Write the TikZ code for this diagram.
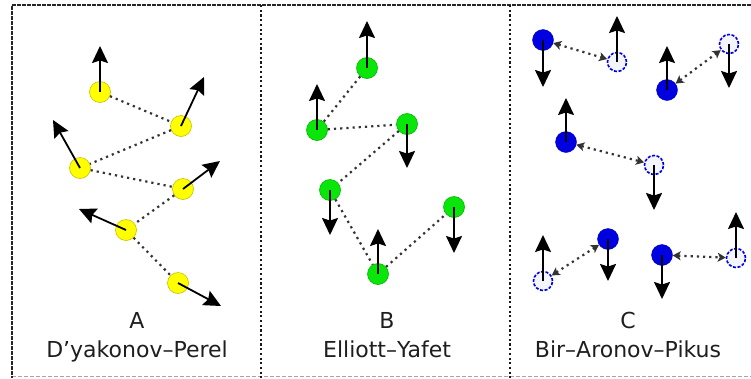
\documentclass[tikz,border=0pt]{standalone}
\usepackage{fontspec}
\setmainfont{DejaVu Sans}
\usetikzlibrary{arrows.meta}
\definecolor{ylw}{RGB}{255,255,0}
\definecolor{ylwb}{RGB}{200,190,0}
\definecolor{grn}{RGB}{10,230,10}
\definecolor{grnb}{RGB}{0,180,0}
\definecolor{blu}{RGB}{0,0,225}
\definecolor{holl}{RGB}{244,244,252}
\definecolor{txt}{RGB}{30,30,30}
\tikzset{
  ydot/.style={circle,minimum size=21pt,inner sep=0pt,fill=ylw,draw=ylwb,line width=0.6pt},
  gdot/.style={circle,minimum size=21pt,inner sep=0pt,fill=grn,draw=grnb,line width=0.6pt},
  bdot/.style={circle,minimum size=21pt,inner sep=0pt,fill=blu,draw=blu!80!black,line width=0.4pt},
  hdot/.style={circle,minimum size=19pt,inner sep=0pt,fill=holl,draw=blu,line width=1.6pt,dash pattern=on 3pt off 1.6pt},
  spin/.style={line width=1.8pt,-{Stealth[width=16pt,length=17pt,inset=2.5pt]}},
  link/.style={line width=2.2pt,color=black!80,dash pattern=on 2.2pt off 4pt},
  blink/.style={line width=2.2pt,color=black!80,dash pattern=on 2.2pt off 4pt,{Stealth[width=9pt,length=8pt,inset=2pt]}-{Stealth[width=9pt,length=8pt,inset=2pt]}},
  lbl/.style={anchor=base,font=\fontsize{22}{26}\selectfont,text=txt,inner sep=0pt},
  frame/.style={line width=1.6pt,color=black!85,dash pattern=on 4pt off 1pt},
  divider/.style={line width=2.2pt,color=black!90,dash pattern=on 2.2pt off 2.5pt}
}
\begin{document}
\begin{tikzpicture}[x=1pt,y=-1pt]
\useasboundingbox (0,0) rectangle (751,378);
% frame
\draw[line width=0.8pt,color=black!35,dash pattern=on 4pt off 2pt] (12,376.5) -- (751,376.5);
\draw[frame] (751,5) -- (12,5) -- (12,378);
\draw[divider] (261,5) -- (261,378);
\draw[divider] (510,5) -- (510,378);
% Panel A
\node[ydot] (a1) at (100,92) {};
\node[ydot] (a2) at (181,126) {};
\node[ydot] (a3) at (80,168) {};
\node[ydot] (a4) at (183,189) {};
\node[ydot] (a5) at (126,230) {};
\node[ydot] (a6) at (178,283) {};
\draw[link] (a1) -- (a2);
\draw[link] (a2) -- (a3);
\draw[link] (a3) -- (a4);
\draw[link] (a4) -- (a5);
\draw[link] (a5) -- (a6);
\draw[spin] (a1.center) -- (100,46);
\draw[spin] (a2.center) -- (204,77);
\draw[spin] (a3.center) -- (53,120);
\draw[spin] (a4.center) -- (220,161);
\draw[spin] (a5.center) -- (79,209);
\draw[spin] (a6.center) -- (221,306);
\node[lbl] (la) at (137,328) {A};
\node[lbl] (na) at (137,357) {D’yakonov–Perel};
% Panel B
\node[gdot] (b1) at (367,68) {};
\node[gdot] (b2) at (317,130) {};
\node[gdot] (b3) at (407,124) {};
\node[gdot] (b4) at (330,190) {};
\node[gdot] (b5) at (454,207) {};
\node[gdot] (b6) at (378,274) {};
\draw[link] (b1) -- (b2);
\draw[link] (b2) -- (b3);
\draw[link] (b3) -- (b4);
\draw[link] (b4) -- (b6);
\draw[link] (b6) -- (b5);
\draw[spin] (b1.center) -- (367,21);
\draw[spin] (b2.center) -- (317,84);
\draw[spin] (b3.center) -- (407,168);
\draw[spin] (b4.center) -- (330,235);
\draw[spin] (b5.center) -- (454,253);
\draw[spin] (b6.center) -- (378,229);
\node[lbl] (lb) at (387,328) {B};
\node[lbl] (nb) at (387,357) {Elliott–Yafet};
% Panel C
\node[bdot] (c1) at (543,40) {};
\node[hdot] (h1) at (617,62) {};
\node[bdot] (c2) at (667,90) {};
\node[hdot] (h2) at (729,44) {};
\node[bdot] (c3) at (566,142) {};
\node[hdot] (h3) at (654,165) {};
\node[hdot] (h4) at (543,281) {};
\node[bdot] (c4) at (608,239) {};
\node[bdot] (c5) at (662,255) {};
\node[hdot] (h5) at (736,258) {};
\draw[blink] (c1) -- (h1);
\draw[blink] (c2) -- (h2);
\draw[blink] (c3) -- (h3);
\draw[blink] (h4) -- (c4);
\draw[blink] (c5) -- (h5);
\draw[spin] (c1.center) -- (543,87);
\draw[spin] (h1.center) -- (617,16);
\draw[spin] (c2.center) -- (667,46);
\draw[spin] (h2.center) -- (729,88);
\draw[spin] (c3.center) -- (566,98);
\draw[spin] (h3.center) -- (654,210);
\draw[spin] (h4.center) -- (543,235);
\draw[spin] (c4.center) -- (608,281);
\draw[spin] (c5.center) -- (662,299);
\draw[spin] (h5.center) -- (736,212);
\node[lbl] (lc) at (628,328) {C};
\node[lbl] (nc) at (628,357) {Bir–Aronov–Pikus};
\end{tikzpicture}
\end{document}
